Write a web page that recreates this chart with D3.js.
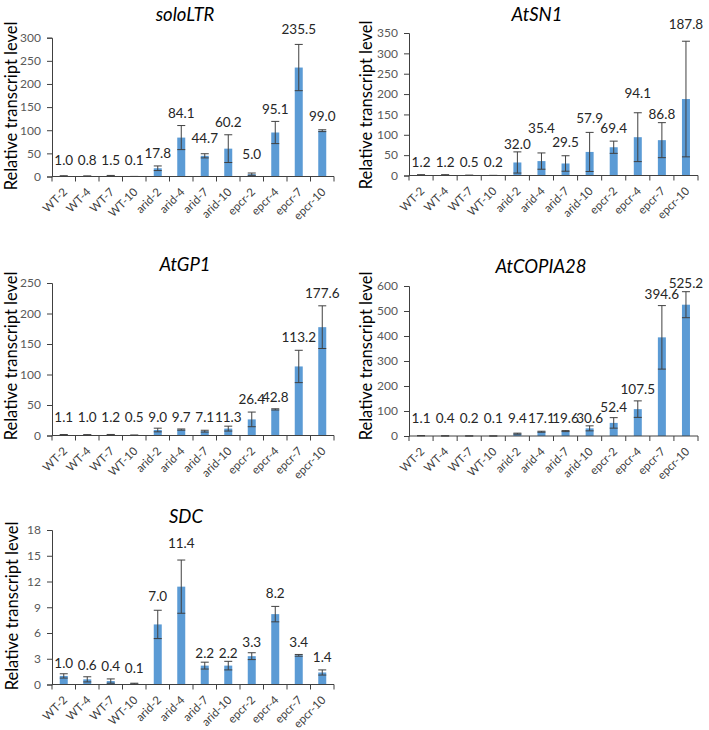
<!DOCTYPE html>
<html><head><meta charset="utf-8">
<script src="https://cdn.jsdelivr.net/npm/d3@7"></script>
<style>
body{margin:0;background:#fff}
svg{display:block}
text{font-family:Lato,"Open Sans",sans-serif}
</style>
</head><body>
<svg id="chart" width="709" height="730"></svg>
<script>
// ---------- data ----------
const categories = ["WT-2","WT-4","WT-7","WT-10","arid-2","arid-4","arid-7","arid-10","epcr-2","epcr-4","epcr-7","epcr-10"];

const soloLTRValues  = [1.0, 0.8, 1.5, 0.1, 17.8, 84.1, 44.7, 60.2, 5.0, 95.1, 235.5, 99.0];
const soloLTRErrors  = [0.6, 0.4, 0.8, 0.05, 5, 26, 4.5, 30, 2.5, 24, 50, 2];
const soloLTRLabelAt = [35, 35, 35, 35, 50, 137, 84, 118.5, 48, 145.5, 318, 130.5];
const soloLTRTicks   = [0, 50, 100, 150, 200, 250, 300];

const atSN1Values  = [1.2, 1.2, 0.5, 0.2, 32.0, 35.4, 29.5, 57.9, 69.4, 94.1, 86.8, 187.8];
const atSN1Errors  = [0.8, 0.8, 0.4, 0.1, 26, 20, 19, 48, 15, 60, 43, 142];
const atSN1LabelAt = [34, 34, 34, 34, 77, 117, 83, 142, 116, 202, 150, 372];
const atSN1Ticks   = [0, 50, 100, 150, 200, 250, 300, 350];

const atGP1Values  = [1.1, 1.0, 1.2, 0.5, 9.0, 9.7, 7.1, 11.3, 26.4, 42.8, 113.2, 177.6];
const atGP1Errors  = [0.5, 0.4, 0.5, 0.2, 3, 1, 1.5, 4, 12, 1, 26.5, 35];
const atGP1LabelAt = [30, 30, 30, 30, 30, 30, 30, 30, 60, 62.5, 162, 233];
const atGP1Ticks   = [0, 50, 100, 150, 200, 250];

const atCOPIA28Values  = [1.1, 0.4, 0.2, 0.1, 9.4, 17.1, 19.6, 30.6, 52.4, 107.5, 394.6, 525.2];
const atCOPIA28Errors  = [0.5, 0.3, 0.1, 0.05, 2, 2, 2, 10, 21, 33, 127, 52];
const atCOPIA28LabelAt = [72, 72, 72, 72, 72, 72, 72, 72, 115, 188, 567, 611];
const atCOPIA28Ticks   = [0, 100, 200, 300, 400, 500, 600];

const sdcValues  = [1.0, 0.6, 0.4, 0.1, 7.0, 11.4, 2.2, 2.2, 3.3, 8.2, 3.4, 1.4];
const sdcErrors  = [0.25, 0.3, 0.25, 0.05, 1.65, 3.1, 0.4, 0.5, 0.4, 0.9, 0.1, 0.3];
const sdcLabelAt = [2.5, 2.25, 2.15, 1.9, 10.3, 16.45, 3.7, 3.7, 5.0, 10.7, 5.0, 3.25];
const sdcTicks   = [0, 3, 6, 9, 12, 15, 18];

const yAxisTitle = "Relative transcript level";

// ---------- layout ----------
const panels = [
  {title:"soloLTR",   values:soloLTRValues,   errors:soloLTRErrors,   labelAt:soloLTRLabelAt,   ticks:soloLTRTicks,
   x0:52, x1:334, yTop:37.7, yZero:176.5, titleX:185, titleY:14, ylabX:11, ylabY:106},
  {title:"AtSN1",     values:atSN1Values,     errors:atSN1Errors,     labelAt:atSN1LabelAt,     ticks:atSN1Ticks,
   x0:409, x1:698, yTop:33, yZero:175.5, titleX:537, titleY:14, ylabX:366, ylabY:105},
  {title:"AtGP1",     values:atGP1Values,     errors:atGP1Errors,     labelAt:atGP1LabelAt,     ticks:atGP1Ticks,
   x0:52, x1:334, yTop:283, yZero:435.5, titleX:185, titleY:264, ylabX:11, ylabY:356},
  {title:"AtCOPIA28", values:atCOPIA28Values, errors:atCOPIA28Errors, labelAt:atCOPIA28LabelAt, ticks:atCOPIA28Ticks,
   x0:409, x1:698, yTop:286, yZero:436, titleX:541, titleY:266, ylabX:366, ylabY:356},
  {title:"SDC",       values:sdcValues,       errors:sdcErrors,       labelAt:sdcLabelAt,       ticks:sdcTicks,
   x0:52, x1:334, yTop:530, yZero:684.5, titleX:186, titleY:516, ylabX:12, ylabY:606}
];

const barColor = "#5B9BD5";
const axisColor = "#404040";
const errColor = "#404040";
const fmt = d3.format(".1f");
const svg = d3.select("#chart");

panels.forEach(p => {
  const g = svg.append("g");
  const x = d3.scaleBand().domain(categories).range([p.x0, p.x1]).paddingInner(0).paddingOuter(0);
  const y = d3.scaleLinear().domain([0, d3.max(p.ticks)]).range([p.yZero, p.yTop]);
  const bw = 8, cap = 8;

  // y axis
  const ya = g.append("g").attr("transform", `translate(${p.x0},0)`)
    .call(d3.axisLeft(y).tickValues(p.ticks).tickSize(5).tickPadding(6).tickFormat(d3.format("d")));
  ya.select(".domain").attr("stroke", axisColor);
  ya.selectAll(".tick line").attr("stroke", axisColor);
  ya.selectAll("text").attr("fill", "#595959").style("font-size", "12px");

  // bars
  g.selectAll("rect.bar").data(p.values).join("rect").attr("class","bar")
    .attr("x", (d,i) => x(categories[i]) + x.bandwidth()/2 - bw/2)
    .attr("width", bw)
    .attr("y", d => y(d))
    .attr("height", d => y(0) - y(d))
    .attr("fill", barColor);

  // error bars
  const eg = g.selectAll("g.err").data(p.values).join("g").attr("class","err");
  eg.append("line")
    .attr("x1", (d,i) => x(categories[i]) + x.bandwidth()/2)
    .attr("x2", (d,i) => x(categories[i]) + x.bandwidth()/2)
    .attr("y1", (d,i) => y(Math.max(0, d - p.errors[i])))
    .attr("y2", (d,i) => y(d + p.errors[i]))
    .attr("stroke", errColor).attr("stroke-width", 1);
  [1, -1].forEach(s => {
    eg.append("line")
      .attr("x1", (d,i) => x(categories[i]) + x.bandwidth()/2 - cap/2)
      .attr("x2", (d,i) => x(categories[i]) + x.bandwidth()/2 + cap/2)
      .attr("y1", (d,i) => y(Math.max(0, d + s*p.errors[i])))
      .attr("y2", (d,i) => y(Math.max(0, d + s*p.errors[i])))
      .attr("stroke", errColor).attr("stroke-width", 1);
  });

  // x axis line + boundary ticks
  g.append("line").attr("x1", p.x0).attr("x2", p.x1).attr("y1", p.yZero).attr("y2", p.yZero)
    .attr("stroke", axisColor);
  const bounds = d3.range(categories.length + 1).map(i => p.x0 + i * x.step());
  g.selectAll("line.xt").data(bounds).join("line").attr("class","xt")
    .attr("x1", d => d).attr("x2", d => d).attr("y1", p.yZero).attr("y2", p.yZero + 5)
    .attr("stroke", axisColor);

  // x tick labels (rotated)
  g.selectAll("text.xl").data(categories).join("text").attr("class","xl")
    .attr("transform", d => `translate(${x(d) + x.bandwidth()/2 + 1},${p.yZero + 13}) rotate(-45)`)
    .attr("text-anchor", "end").attr("dominant-baseline", "central")
    .attr("fill", "#404040").style("font-size", "11.5px")
    .text(d => d);

  // value labels
  g.selectAll("text.vl").data(p.values).join("text").attr("class","vl")
    .attr("x", (d,i) => x(categories[i]) + x.bandwidth()/2)
    .attr("y", (d,i) => y(p.labelAt[i]))
    .attr("text-anchor", "middle").attr("dominant-baseline", "central")
    .attr("fill", "#262626").style("font-size", "13.5px")
    .text(d => fmt(d));

  // title
  g.append("text").attr("x", p.titleX).attr("y", p.titleY)
    .attr("text-anchor", "middle").attr("dominant-baseline", "central")
    .style("font-size", "18.5px").style("font-style", "italic").attr("fill", "#000")
    .text(p.title);

  // y axis title
  g.append("text").attr("transform", `translate(${p.ylabX},${p.ylabY}) rotate(-90)`)
    .attr("text-anchor", "middle").attr("dominant-baseline", "central")
    .style("font-size", "16.5px").attr("fill", "#000")
    .text(yAxisTitle);
});
</script>
</body></html>
